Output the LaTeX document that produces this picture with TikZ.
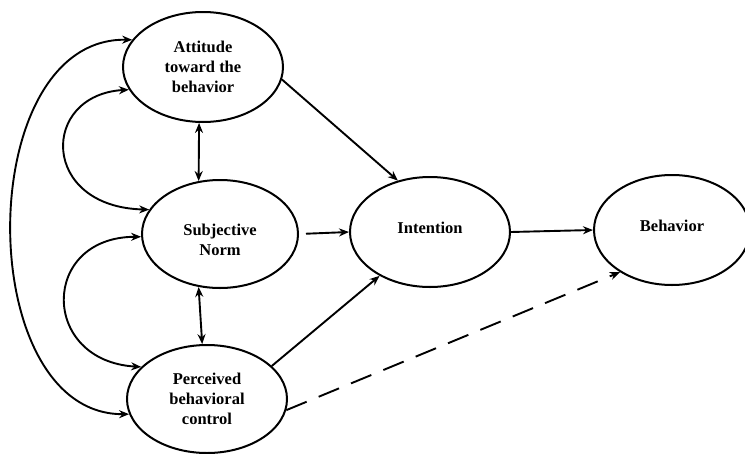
\documentclass[tikz,border=0pt]{standalone}
\usepackage{fontspec}
\setmainfont{Liberation Serif}
\usetikzlibrary{shapes.geometric,arrows.meta}
\begin{document}
\begin{tikzpicture}[x=1pt,y=-1pt,
  txt/.style={align=center,inner sep=0pt,font=\bfseries\fontsize{16.5}{20}\selectfont},
  oval/.style={draw,ellipse,line width=2pt,inner sep=0pt,txt},
  conn/.style={line width=1.9pt,-{Stealth[length=10pt,width=8pt]}},
  dconn/.style={line width=1.9pt,{Stealth[length=10pt,width=8pt]}-{Stealth[length=10pt,width=8pt]}},
  dashconn/.style={conn,dash pattern=on 22pt off 13pt}]
\useasboundingbox (0,0) rectangle (745,453);
\node[oval,minimum width=160pt,minimum height=110pt] (att) at (203,67) {Attitude\\toward the\\behavior};
\node[oval,minimum width=156pt,minimum height=108pt,
  label={[txt,yshift=-6pt]center:Subjective\\Norm}] (sn) at (220,234) {};
\node[oval,minimum width=160pt,minimum height=108pt] (pbc) at (207,399) {Perceived\\behavioral\\control};
\node[oval,minimum width=160pt,minimum height=110pt,
  label={[txt,yshift=4pt]center:Intention}] (int) at (430,232) {};
\node[oval,minimum width=156pt,minimum height=110pt,
  label={[txt,yshift=4pt]center:Behavior}] (beh) at (672,230) {};
% direct paths
\draw[conn] (att.-9) -- (int.122);
\draw[conn,shorten <=7pt] (sn.east) -- (int.west);
\draw[conn] (pbc.27) -- (int.221);
\draw[conn] (int.east) -- (beh.west);
\draw[dashconn] (pbc.352) -- (beh.219);
% vertical correlations
\draw[dconn] (att.266) -- (sn.112);
\draw[dconn] (sn.248) -- (pbc.95);
% curved correlations
\draw[dconn] (att.159) .. controls (-28,37) and (-28,415) .. (pbc.191);
\draw[dconn] (att.197) .. controls (40,95) and (40,207) .. (sn.161);
\draw[dconn] (sn.182) .. controls (40,237) and (40,361) .. (pbc.154);
\end{tikzpicture}
\end{document}
